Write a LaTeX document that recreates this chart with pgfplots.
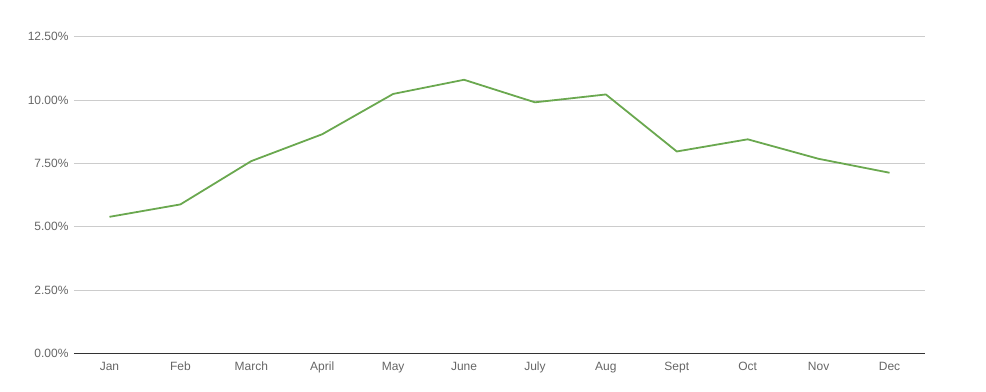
\documentclass[border=0pt]{standalone}
\usepackage{pgfplots}
\pgfplotsset{compat=1.18}
\usepackage{fontspec}
\setmainfont{Liberation Sans}
\definecolor{linegreen}{HTML}{6AA84F}
\definecolor{gridgray}{HTML}{CCCCCC}
\definecolor{labelgray}{HTML}{666666}
\definecolor{axisdark}{HTML}{333333}
\begin{document}
\begin{tikzpicture}
\begin{axis}[
  scale only axis,
  width=851bp, height=316.7bp,
  xmin=-0.5, xmax=11.5,
  ymin=0, ymax=12.5,
  xtick={0,...,11},
  xticklabels={Jan,Feb,March,April,May,June,July,Aug,Sept,Oct,Nov,Dec},
  ytick={0,2.5,5,7.5,10,12.5},
  yticklabels={0.00\%,2.50\%,5.00\%,7.50\%,10.00\%,12.50\%},
  ymajorgrids,
  grid style={gridgray, line width=0.8bp},
  axis line style={draw=none},
  major tick length=0pt,
  tick label style={font=\fontsize{12bp}{14bp}\selectfont, text=labelgray},
  yticklabel style={xshift=-2bp},
  xticklabel style={yshift=-5bp, text height=9bp, text depth=2.5bp},
  clip=false,
]
\draw[axisdark, line width=1bp] (axis cs:-0.5,0) -- (axis cs:11.5,0);
\addplot[linegreen, line width=1.8bp, mark=none] coordinates {
  (0,5.39) (1,5.88) (2,7.59) (3,8.65) (4,10.24) (5,10.80)
  (6,9.91) (7,10.22) (8,7.97) (9,8.45) (10,7.68) (11,7.13)
};
\end{axis}
\path (current axis.south west) ++(-74bp,-37.7bp) coordinate (bl);
\path (current axis.north east) ++(61bp,36.7bp) coordinate (tr);
\path (bl) rectangle (tr);
\end{tikzpicture}
\end{document}
